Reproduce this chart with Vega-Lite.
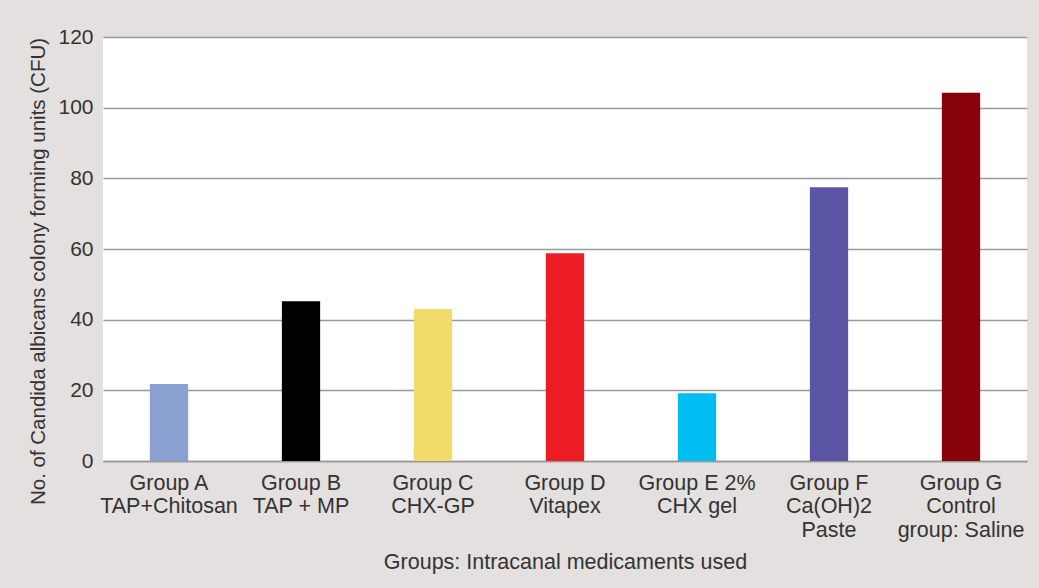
{
  "$schema": "https://vega.github.io/schema/vega-lite/v6.json",
  "width": 924,
  "height": 424,
  "autosize": {"type": "none"},
  "padding": {"left": 103, "top": 37, "right": 12, "bottom": 127},
  "background": "#e4e0df",
  "config": {
    "font": "Liberation Sans",
    "view": {"fill": "white", "stroke": null}
  },
  "data": {
    "values": [
      {"group": "Group A|TAP+Chitosan", "cfu": 21.8, "color": "#8aa0d0"},
      {"group": "Group B|TAP + MP", "cfu": 45.2, "color": "#000000"},
      {"group": "Group C|CHX-GP", "cfu": 43.0, "color": "#f2da6b"},
      {"group": "Group D|Vitapex", "cfu": 58.8, "color": "#ec1c24"},
      {"group": "Group E 2%|CHX gel", "cfu": 19.2, "color": "#00bef2"},
      {"group": "Group F|Ca(OH)2|Paste", "cfu": 77.5, "color": "#5a55a5"},
      {"group": "Group G|Control|group: Saline", "cfu": 104.2, "color": "#870309"}
    ]
  },
  "mark": {"type": "bar"},
  "encoding": {
    "x": {
      "field": "group",
      "type": "nominal",
      "sort": null,
      "scale": {"paddingInner": 0.71, "paddingOuter": 0.355},
      "axis": {
        "title": "Groups: Intracanal medicaments used",
        "titleFontSize": 21.5,
        "titleFontWeight": "normal",
        "titleColor": "#333333",
        "titlePadding": 11,
        "labelExpr": "split(datum.label, '|')",
        "labelAngle": 0,
        "labelFontSize": 21.5,
        "labelColor": "#333333",
        "labelLineHeight": 23.5,
        "labelPadding": 11,
        "labelBaseline": "top",
        "ticks": false,
        "domain": true,
        "domainColor": "#999999",
        "domainWidth": 1.5
      }
    },
    "y": {
      "field": "cfu",
      "type": "quantitative",
      "scale": {"domain": [0, 120]},
      "axis": {
        "title": "No. of Candida albicans colony forming units (CFU)",
        "titleFontSize": 20.5,
        "titleFontWeight": "normal",
        "titleColor": "#333333",
        "titlePadding": 9,
        "titleY": 234,
        "values": [0, 20, 40, 60, 80, 100, 120],
        "labelFontSize": 21,
        "labelColor": "#333333",
        "labelPadding": 10,
        "ticks": false,
        "domain": false,
        "grid": true,
        "gridColor": "#999999",
        "gridWidth": 1.5
      }
    },
    "color": {"field": "color", "type": "nominal", "scale": null}
  }
}
